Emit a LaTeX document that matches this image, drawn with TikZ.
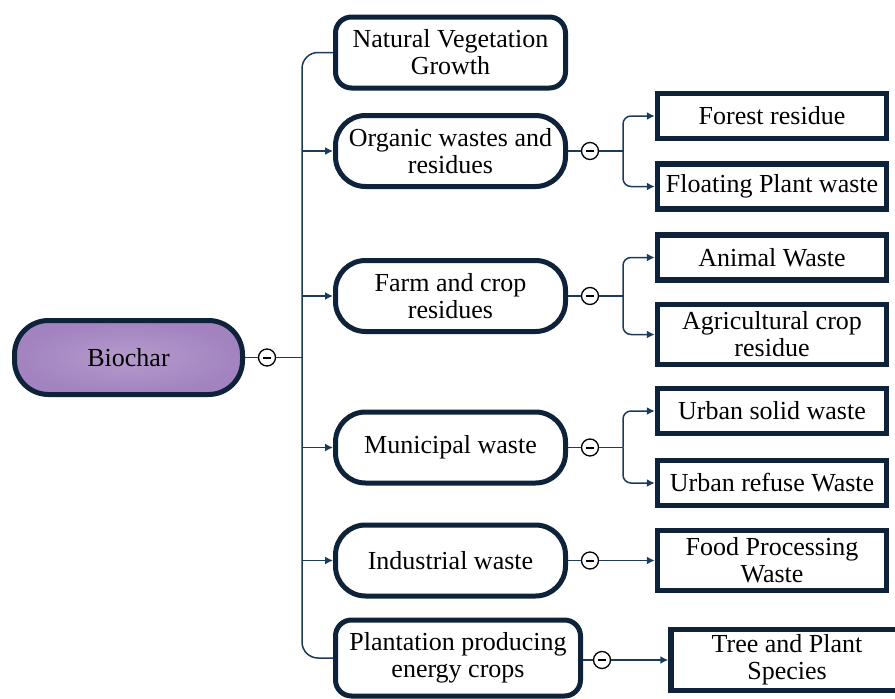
\documentclass[tikz,border=0pt]{standalone}
\usepackage{fontspec}
\setmainfont{Liberation Serif}
\usetikzlibrary{arrows.meta}
\definecolor{bord}{HTML}{0E2339}
\definecolor{lnk}{HTML}{1B3A5C}
\definecolor{purp}{HTML}{A282BF}
\tikzset{
  txt/.style={font=\fontsize{26}{27}\selectfont, text=black, align=center},
  root/.style={txt, draw=bord, line width=5pt, rounded corners=34pt, fill=purp, inner color=purp!80!white, outer color=purp, minimum width=228pt, minimum height=74pt},
  mid/.style={txt, draw=bord, line width=5pt, rounded corners=30pt, fill=white, minimum width=230pt, minimum height=71pt},
  midsq/.style={txt, draw=bord, line width=5pt, rounded corners=16pt, fill=white, minimum width=230pt, minimum height=71pt},
  leaf/.style={txt, draw=bord, line width=5.5pt, fill=white, minimum width=229pt, minimum height=45pt, inner sep=2pt},
  minus/.style={circle, draw=black, line width=1.3pt, fill=white, minimum size=17pt, inner sep=0pt,
    path picture={\draw[line width=2pt] ([xshift=-4pt]path picture bounding box.center) -- ([xshift=4pt]path picture bounding box.center);}},
  conn/.style={draw=lnk, line width=1.5pt},
  arr/.style={conn, -{Latex[length=8pt,width=8pt]}},
}
\begin{document}
\begin{tikzpicture}[x=1pt,y=-1pt]
\useasboundingbox (0,0) rectangle (895,699);
% root
\node[root] (bio) at (128.5,357.5) {Biochar};
\node[minus] (m0) at (267,357.5) {};
% middle column
\node[midsq] (nvg) at (450.5,52.5) {Natural Vegetation\\Growth};
\node[mid] (org) at (450.5,151) {Organic wastes and\\residues};
\node[mid] (farm) at (450.5,296) {Farm and crop\\residues};
\node[mid] (mun) at (450.5,447.5) {Municipal waste};
\node[mid] (ind) at (450.5,560.5) {Industrial waste};
\node[midsq, minimum width=245pt, minimum height=76pt] (pla) at (458,658) {Plantation producing\\energy crops};
% minus buttons
\node[minus] (m1) at (590,151) {};
\node[minus] (m2) at (590,296) {};
\node[minus] (m3) at (590,447.5) {};
\node[minus] (m4) at (590,560.5) {};
\node[minus] (m5) at (602,660) {};
% leaves
\node[leaf] (for) at (772,116) {Forest residue};
\node[leaf] (flo) at (772,186.5) {Floating Plant waste};
\node[leaf] (ani) at (772,257.5) {Animal Waste};
\node[leaf, minimum height=60pt] (agr) at (772,334.5) {Agricultural crop\\residue};
\node[leaf] (uso) at (772,411) {Urban solid waste};
\node[leaf] (ure) at (772,483) {Urban refuse Waste};
\node[leaf, minimum height=60pt] (food) at (772,560.5) {Food Processing\\Waste};
\node[leaf, minimum width=232pt, minimum height=61pt] (tree) at (787,660) {Tree and Plant\\Species};
% trunk
\coordinate (tj) at (302,357.5);
\coordinate (ttop) at (302,52.5);
\coordinate (tbot) at (302,658);
\draw[conn] (bio.east) -- (m0.west);
\draw[conn] (m0.east) -- (tj);
\draw[conn, rounded corners=16pt] (nvg.west) -- (ttop) -- (tbot) -- (pla.west);
\draw[arr] (org.west -| tj) -- (org.west);
\draw[arr] (farm.west -| tj) -- (farm.west);
\draw[arr] (mun.west -| tj) -- (mun.west);
\draw[arr] (ind.west -| tj) -- (ind.west);
% sub branches
\draw[conn] (org.east) -- (m1.west);
\draw[conn] (farm.east) -- (m2.west);
\draw[conn] (mun.east) -- (m3.west);
\draw[conn] (ind.east) -- (m4.west);
\draw[conn] (pla.east |- m5.west) -- (m5.west);
\coordinate (j1) at (623,151);
\coordinate (j2) at (623,296);
\coordinate (j3) at (623,447.5);
\draw[conn] (m1.east) -- (j1);
\draw[conn] (m2.east) -- (j2);
\draw[conn] (m3.east) -- (j3);
\draw[arr, rounded corners=8pt] (j1) |- (for.west);
\draw[arr, rounded corners=8pt] (j1) |- (flo.west);
\draw[arr, rounded corners=8pt] (j2) |- (ani.west);
\draw[arr, rounded corners=8pt] (j2) |- (agr.west);
\draw[arr, rounded corners=8pt] (j3) |- (uso.west);
\draw[arr, rounded corners=8pt] (j3) |- (ure.west);
\draw[arr] (m4.east) -- (food.west);
\draw[arr] (m5.east) -- (tree.west);
\end{tikzpicture}
\end{document}
